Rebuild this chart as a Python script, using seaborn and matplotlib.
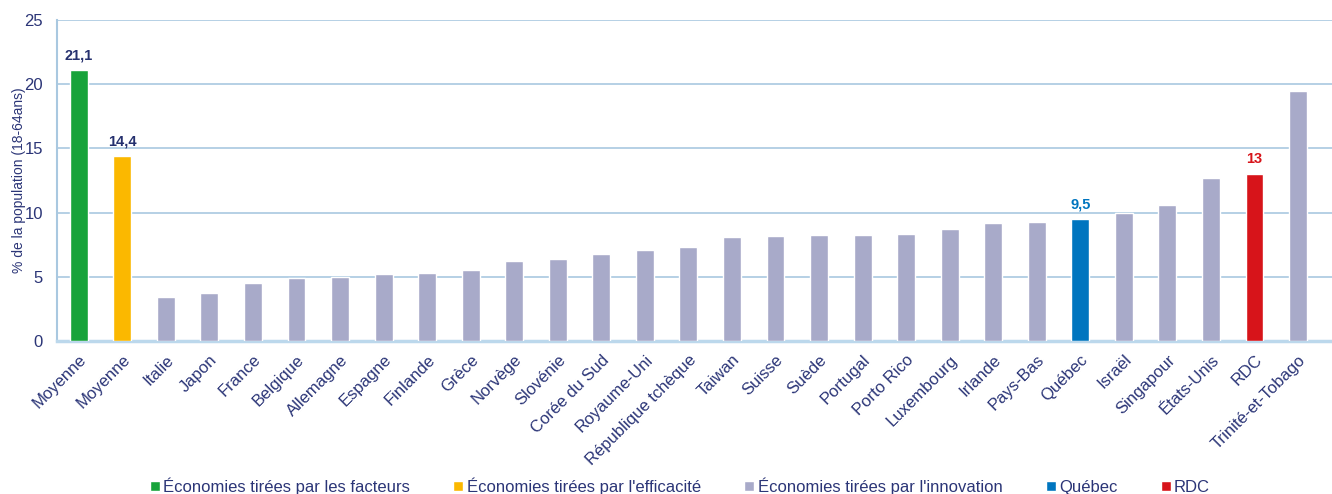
import numpy as np
import pandas as pd
import matplotlib
matplotlib.use('Agg')
import matplotlib.pyplot as plt
import seaborn as sns

# données
pays = ['Moyenne', 'Moyenne', 'Italie', 'Japon', 'France', 'Belgique', 'Allemagne',
        'Espagne', 'Finlande', 'Grèce', 'Norvège', 'Slovénie', 'Corée du Sud',
        'Royaume-Uni', 'République tchèque', 'Taiwan', 'Suisse', 'Suède', 'Portugal',
        'Porto Rico', 'Luxembourg', 'Irlande', 'Pays-Bas', 'Québec', 'Israël',
        'Singapour', 'États-Unis', 'RDC', 'Trinité-et-Tobago']
valeurs = [21.1, 14.4, 3.4, 3.7, 4.5, 4.9, 5.0, 5.2, 5.3, 5.5, 6.2, 6.4, 6.8,
           7.1, 7.3, 8.1, 8.2, 8.25, 8.25, 8.3, 8.7, 9.2, 9.3, 9.5, 10.0,
           10.6, 12.7, 13.0, 19.5]
groupes_noms = ['Économies tirées par les facteurs', "Économies tirées par l'efficacité",
                "Économies tirées par l'innovation", 'Québec', 'RDC']
groupe_idx = [0, 1] + [2] * 21 + [3, 2, 2, 2, 4, 2]
couleurs = ['#17a33a', '#fbb800', '#a8aac9', '#0075bf', '#d7141a']
etiquettes = {0: ('21,1', '#25306e'), 1: ('14,4', '#25306e'),
              23: ('9,5', '#0075bf'), 27: ('13', '#d7141a')}

navy = '#2b3577'
grille = '#a9c8e0'

df = pd.DataFrame({'pos': [str(i) for i in range(len(pays))],
                   'valeur': valeurs,
                   'groupe': [groupes_noms[g] for g in groupe_idx]})

sns.set_style('white')
plt.rcParams['font.family'] = ['Liberation Sans', 'DejaVu Sans']

fig = plt.figure(figsize=(13.32, 4.94), dpi=100)
ax = fig.add_axes([57 / 1332, 153 / 494, 1 - 57 / 1332, 321 / 494])

sns.barplot(data=df, x='pos', y='valeur', hue='groupe', hue_order=groupes_noms,
            palette=dict(zip(groupes_noms, couleurs)), dodge=False, width=0.41,
            saturation=1, ax=ax, zorder=3)

ax.set_ylim(0, 25)
ax.set_xlim(-0.5, 28.78)
ax.set_yticks([0, 5, 10, 15, 20, 25])
ax.yaxis.grid(True, color=grille, linewidth=1.2, zorder=0)
ax.set_axisbelow(True)

ax.set_xticks(range(len(pays)))
ax.set_xticklabels(pays, rotation=45, ha='right', rotation_mode='anchor',
                   fontsize=12, color=navy)
ax.set_xticks(np.arange(-0.5, len(pays), 1), minor=True)
ax.tick_params(axis='x', which='major', length=0, pad=8)
ax.tick_params(axis='x', which='minor', length=5, color=grille, width=1.2)
ax.tick_params(axis='y', length=5, color=grille, width=1.2, labelsize=12,
               labelcolor=navy, pad=5)

for s in ['top', 'right']:
    ax.spines[s].set_visible(False)
ax.spines['left'].set_color(grille)
ax.spines['left'].set_linewidth(1.5)
ax.spines['bottom'].set_color('#bcd8ec')
ax.spines['bottom'].set_linewidth(2.5)

ax.set_xlabel('')
ax.set_ylabel('% de la population (18-64ans)', fontsize=10, color=navy, labelpad=-1)

for i, (txt, col) in etiquettes.items():
    ax.text(i, valeurs[i] + 0.6, txt, ha='center', va='bottom',
            fontsize=10.5, fontweight='bold', color=col)

sns.move_legend(ax, 'center', bbox_to_anchor=(680 / 1332, 8 / 494),
                bbox_transform=fig.transFigure, ncol=5, frameon=False,
                title=None, fontsize=12, handlelength=0.6, handleheight=0.6,
                handletextpad=0.2, columnspacing=2.6, borderpad=0)
for t in ax.get_legend().get_texts():
    t.set_color(navy)

plt.savefig('out.png', dpi=100)
